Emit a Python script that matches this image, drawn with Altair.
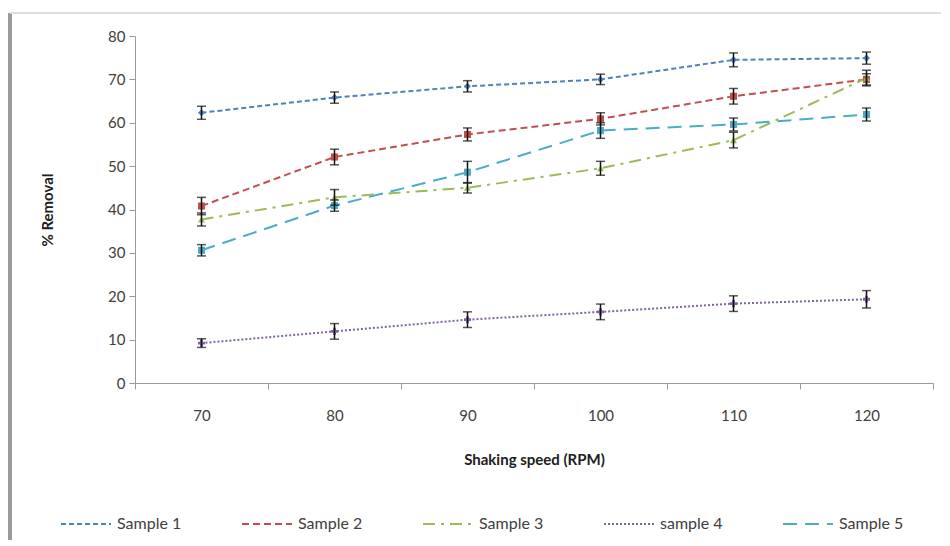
import altair as alt
import pandas as pd

speeds = [70, 80, 90, 100, 110, 120]
series_names = ["Sample 1", "Sample 2", "Sample 3", "sample 4", "Sample 5"]

sample1 = [62.3, 65.8, 68.4, 70.0, 74.5, 74.9]
sample2 = [40.8, 52.1, 57.3, 60.9, 66.1, 70.0]
sample3 = [37.7, 42.8, 45.0, 49.5, 56.0, 70.3]
sample4 = [9.2, 11.9, 14.6, 16.4, 18.3, 19.3]
sample5 = [30.6, 40.9, 48.6, 58.2, 59.6, 61.9]

err1 = [1.5, 1.3, 1.3, 1.2, 1.6, 1.4]
err2 = [2.0, 1.8, 1.5, 1.4, 1.8, 1.3]
err3 = [1.5, 1.8, 1.2, 1.6, 1.8, 1.8]
err4 = [1.0, 1.8, 1.8, 1.8, 1.8, 2.0]
err5 = [1.3, 1.3, 2.5, 1.8, 1.5, 1.5]

colors = ["#4F81BD", "#C0504D", "#9BBB59", "#8064A2", "#4BACC6"]
dashes = [[5, 3], [7, 4], [12, 6, 3, 6], [2, 2], [14, 8]]
shapes = ["diamond", "square", "triangle-up", "cross", "square"]

values = [sample1, sample2, sample3, sample4, sample5]
errors = [err1, err2, err3, err4, err5]

rows = []
for name, vals, errs in zip(series_names, values, errors):
    for s, v, e in zip(speeds, vals, errs):
        rows.append({"speed": s, "series": name,
                     "value": v, "lo": v - e, "hi": v + e})
df = pd.DataFrame(rows)

FONT = "Lato"

x_enc = alt.X(
    "speed:O",
    scale=alt.Scale(type="band", paddingInner=0, paddingOuter=0),
    axis=alt.Axis(
        title="Shaking speed (RPM)",
        tickBand="extent",
        labelAngle=0,
        labelPadding=19,
        labelFontSize=15,
        labelColor="#404040",
        labelFont=FONT,
        titleFont=FONT,
        titleFontSize=15,
        titleFontWeight="bold",
        titleColor="#202020",
        titlePadding=29,
        domainColor="#9a9a9a",
        tickColor="#9a9a9a",
        tickSize=6,
        grid=False,
    ),
)
y_enc = alt.Y(
    "value:Q",
    scale=alt.Scale(domain=[0, 80], nice=False),
    axis=alt.Axis(
        title="% Removal",
        values=[0, 10, 20, 30, 40, 50, 60, 70, 80],
        labelFontSize=15,
        labelColor="#404040",
        labelFont=FONT,
        labelPadding=4,
        titleFont=FONT,
        titleFontSize=15,
        titleFontWeight="bold",
        titleColor="#202020",
        titlePadding=52,
        domainColor="#9a9a9a",
        tickColor="#9a9a9a",
        tickSize=6,
        grid=False,
    ),
)

lines = alt.Chart(df).mark_line(strokeWidth=2).encode(
    x=x_enc,
    y=y_enc,
    color=alt.Color("series:N", scale=alt.Scale(domain=series_names, range=colors),
                    sort=series_names,
                    legend=alt.Legend(
                        title=None, orient="none", direction="horizontal",
                        legendX=-75, legendY=462,
                        symbolType="stroke", symbolSize=2500, symbolStrokeWidth=2,
                        labelFont=FONT, labelFontSize=16, labelColor="#404040",
                        columnPadding=56, labelOffset=5,
                    )),
    strokeDash=alt.StrokeDash("series:N", sort=series_names,
                              scale=alt.Scale(domain=series_names, range=dashes)),
)

point_layers = []
for name, col, shp in zip(series_names, colors, shapes):
    point_layers.append(
        alt.Chart(df).transform_filter(alt.datum.series == name)
        .mark_point(filled=True, size=50, opacity=1, shape=shp, color=col)
        .encode(x=alt.X("speed:O"), y=alt.Y("value:Q"))
    )

bars = alt.Chart(df).mark_rule(color="#111111", strokeWidth=1.5).encode(
    x=alt.X("speed:O"), y=alt.Y("lo:Q"), y2="hi:Q"
)
cap_lo = alt.Chart(df).mark_tick(color="#111111", size=9, thickness=1.5).encode(
    x=alt.X("speed:O"), y=alt.Y("lo:Q")
)
cap_hi = alt.Chart(df).mark_tick(color="#111111", size=9, thickness=1.5).encode(
    x=alt.X("speed:O"), y=alt.Y("hi:Q")
)

frame_left = alt.Chart(df).mark_rule(color="#9a9a9a", strokeWidth=4).encode(
    x=alt.value(-125), y=alt.value(-23), y2=alt.value(504)
)
frame_top = alt.Chart(df).mark_rule(color="#dddddd", strokeWidth=1).encode(
    x=alt.value(-125), x2=alt.value(806), y=alt.value(-23)
)

chart = alt.layer(frame_left, frame_top, lines, *point_layers, bars, cap_lo, cap_hi).properties(
    width=798, height=347,
    padding={"left": 0, "top": 3, "right": 0, "bottom": 0},
    background="white",
).configure_view(stroke=None)

chart.save("out.html", embed_options={"renderer": "svg", "actions": False})
